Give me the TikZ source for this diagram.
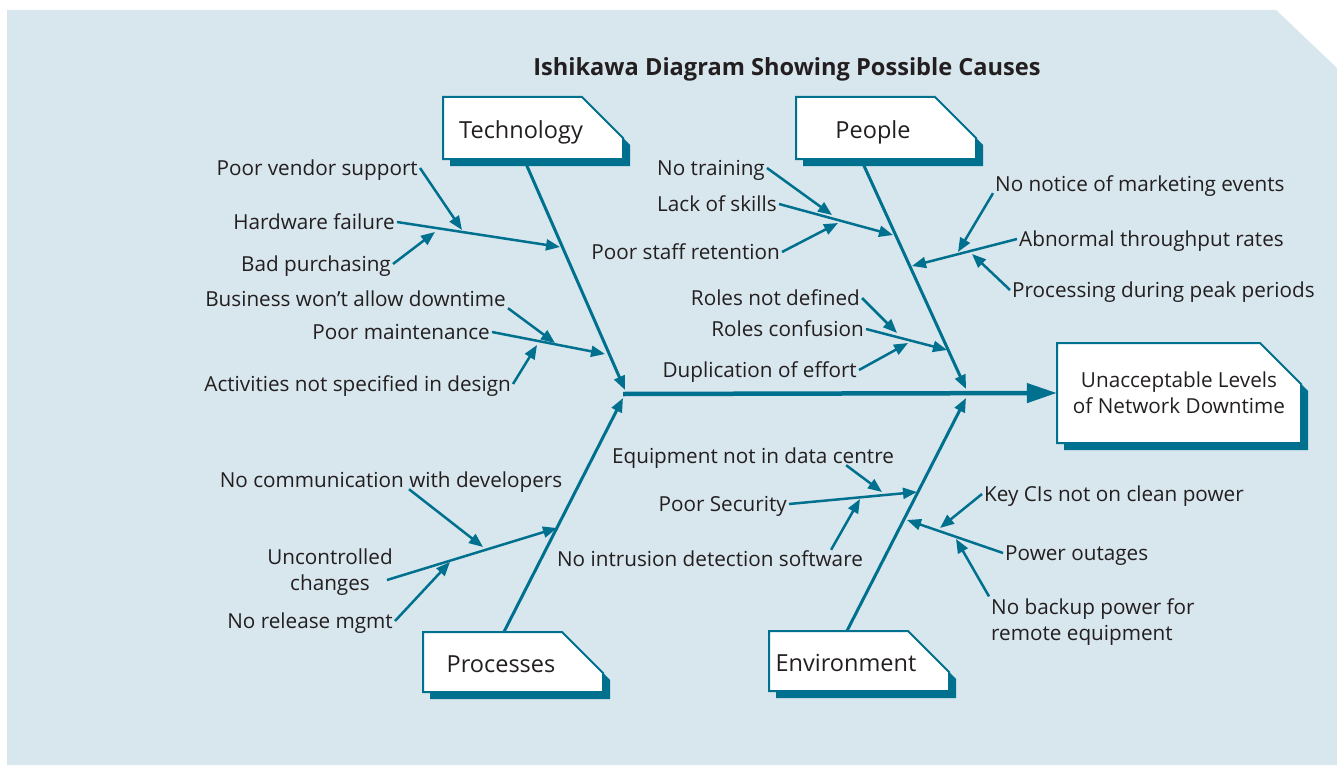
\documentclass[tikz,border=0pt]{standalone}
\usepackage{fontspec}
\setmainfont{Open Sans}
\usepackage{tikz}
\usetikzlibrary{arrows.meta}
\usepackage{xcolor}

\definecolor{fishteal}{RGB}{0,112,143}
\definecolor{panelblue}{RGB}{216,230,237}
\definecolor{inkdark}{RGB}{35,31,32}

\newcommand{\fishbox}[4]{%
  \fill[fishteal] ({#1-#3/2+7},{#2-#4/2+7}) -- ++({#3-41},0) -- ++(41,41) -- ++(0,{#4-41}) -- ++({-#3},0) -- cycle;
  \filldraw[fill=white, draw=fishteal, line width=2pt] ({#1-#3/2},{#2-#4/2}) -- ++({#3-41},0) -- ++(41,41) -- ++(0,{#4-41}) -- ++({-#3},0) -- cycle;
}

\begin{document}
\begin{tikzpicture}[x=1pt, y=-1pt, >={Triangle[length=14pt,width=11pt]},
    cause/.style={text=inkdark, font=\fontsize{20.7}{26}\selectfont, inner sep=2pt, text height=14pt, text depth=0pt},
    causetwo/.style={text=inkdark, font=\fontsize{20.7}{26}\selectfont, inner sep=2pt},
    boxtext/.style={text=inkdark, font=\fontsize{23.5}{28}\selectfont, inner sep=0pt, text height=21pt, text depth=0pt},
    bone/.style={->, draw=fishteal, line width=3pt},
    twig/.style={->, draw=fishteal, line width=2.5pt}]

      \useasboundingbox (0,0) rectangle (1337,765);
      \fill[panelblue] (7,10) -- (1276,10) -- (1337,68) -- (1337,765) -- (7,765) -- cycle;

      \fishbox{533}{128}{180}{62}
      \fishbox{886}{128}{180}{62}
      \fishbox{513}{662}{180}{60}
      \fishbox{859}{661}{180}{60}
      \fishbox{1179}{393}{244}{100}

      \node[text=inkdark, font=\bfseries\fontsize{23.6}{28}\selectfont] (title) at (787,69) {Ishikawa Diagram Showing Possible Causes};

      \node[boxtext, minimum width=180pt, minimum height=62pt] (tech) at (533,128) {Technology\hspace*{24pt}};
      \node[boxtext, minimum width=180pt, minimum height=62pt] (people) at (886,128) {People\hspace*{26pt}};
      \node[boxtext, minimum width=180pt, minimum height=60pt] (proc) at (513,662) {Processes\hspace*{24pt}};
      \node[boxtext, minimum width=180pt, minimum height=60pt] (env) at (859,661) {Environment\hspace*{26pt}};
      \node[causetwo, minimum width=244pt, minimum height=100pt, align=center] (effect) at (1179,393) {Unacceptable Levels\\of Network Downtime};

      \node[cause, anchor=east] (pvs) at (420,168) {Poor vendor support};
      \node[cause, anchor=east] (hw) at (397,222) {Hardware failure};
      \node[cause, anchor=east] (bp) at (393,264) {Bad purchasing};
      \node[cause, anchor=east] (bwad) at (508,299) {Business won’t allow downtime};
      \node[cause, anchor=east] (pm) at (492,332) {Poor maintenance};
      \node[cause, anchor=east] (ans) at (513,384) {Activities not specified in design};

      \node[cause, anchor=east] (nt) at (767,168) {No training};
      \node[cause, anchor=east] (los) at (779,204) {Lack of skills};
      \node[cause, anchor=east] (psr) at (782,252) {Poor staff retention};
      \node[cause, anchor=east] (rnd) at (862,298) {Roles not defined};
      \node[cause, anchor=east] (rc) at (866,329) {Roles confusion};
      \node[cause, anchor=east] (doe) at (859,370) {Duplication of effort};
      \node[cause, anchor=west] (nnme) at (993,184) {No notice of marketing events};
      \node[cause, anchor=west] (atr) at (1017,239) {Abnormal throughput rates};
      \node[cause, anchor=west] (pdpp) at (1010,290) {Processing during peak periods};

      \node[cause] (ncd) at (391,480) {No communication with developers};
      \node[causetwo, align=center] (uc) at (330,572) {Uncontrolled\\changes};
      \node[cause, anchor=east] (nrm) at (395,621) {No release mgmt};

      \node[cause] (endc) at (753,456) {Equipment not in data centre};
      \node[cause, anchor=east] (ps) at (789,504) {Poor Security};
      \node[cause] (nids) at (710,559) {No intrusion detection software};
      \node[cause, anchor=west] (kcis) at (982,494) {Key CIs not on clean power};
      \node[cause, anchor=west] (po) at (1003,553) {Power outages};
      \node[causetwo, align=left, anchor=west] (nbp) at (989,622) {No backup power for\\remote equipment};

      \coordinate (spinestart) at (623,394);
      \coordinate (techtip) at (625,390);
      \coordinate (peopletip) at (966,389);
      \coordinate (proctip) at (623,398);
      \coordinate (envtip) at (966,398);

      \coordinate (hwtip) at (560,247);
      \coordinate (pvstip) at (462,230);
      \coordinate (bptip) at (435,232);
      \coordinate (pmtip) at (605,354);
      \coordinate (bwadtip) at (555,343);
      \coordinate (anstip) at (537,345);

      \coordinate (lostip) at (893,235);
      \coordinate (nttip) at (832,215);
      \coordinate (psrtip) at (838,223);
      \coordinate (rctip) at (947,350);
      \coordinate (rndtip) at (897,333);
      \coordinate (doetip) at (908,343);
      \coordinate (atrtip) at (912,266);
      \coordinate (nnmetip) at (958,252);
      \coordinate (pdpptip) at (972,254);

      \coordinate (uctip) at (557,528);
      \coordinate (ncdtip) at (483,547);
      \coordinate (nrmtip) at (450,562);

      \coordinate (pstip) at (917,492);
      \coordinate (endctip) at (882,492);
      \coordinate (nidstip) at (860,499);
      \coordinate (potip) at (907,520);
      \coordinate (kcistip) at (940,528);
      \coordinate (nbptip) at (956,539);

      \draw[draw=fishteal, line width=4.5pt, -{Triangle[length=30pt,width=19pt]}] (spinestart) -- (effect.west);

      \draw[bone] ([xshift=-9pt]tech.south) -- (techtip);
      \draw[bone] ([xshift=-25pt]people.south) -- (peopletip);
      \draw[bone] ([xshift=-9pt]proc.north) -- (proctip);
      \draw[bone] ([xshift=-12pt]env.north) -- (envtip);

      \draw[twig] (hw.east) -- (hwtip);
      \draw[twig] (pvs.east) -- (pvstip);
      \draw[twig] (bp.east) -- (bptip);
      \draw[twig] (pm.east) -- (pmtip);
      \draw[twig] (bwad.south east) -- (bwadtip);
      \draw[twig] (ans.east) -- (anstip);

      \draw[twig] (los.east) -- (lostip);
      \draw[twig] (nt.east) -- (nttip);
      \draw[twig] (psr.east) -- (psrtip);
      \draw[twig] (rc.east) -- (rctip);
      \draw[twig] (rnd.east) -- (rndtip);
      \draw[twig] (doe.east) -- (doetip);
      \draw[twig] (atr.west) -- (atrtip);
      \draw[twig] (nnme.south west) -- (nnmetip);
      \draw[twig] (pdpp.west) -- (pdpptip);

      \draw[twig] ([xshift=-8pt,yshift=-8pt]uc.east) -- (uctip);
      \draw[twig] ([xshift=18pt]ncd.south) -- (ncdtip);
      \draw[twig] (nrm.east) -- (nrmtip);

      \draw[twig] (ps.east) -- (pstip);
      \draw[twig] ([xshift=-50pt]endc.south east) -- (endctip);
      \draw[twig] ([xshift=-34pt]nids.north east) -- (nidstip);
      \draw[twig] (po.west) -- (potip);
      \draw[twig] (kcis.west) -- (kcistip);
      \draw[twig] (nbp.north west) -- (nbptip);
\end{tikzpicture}
\end{document}
